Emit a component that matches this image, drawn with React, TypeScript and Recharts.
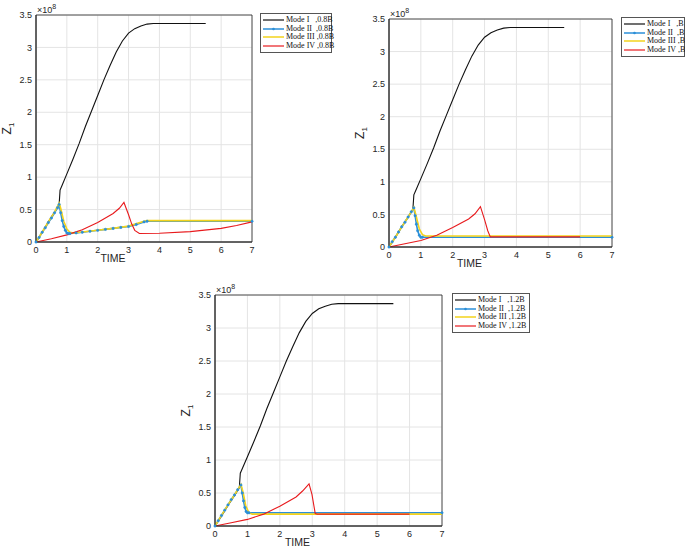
import React from "react";
import { LineChart, Line, XAxis, YAxis, CartesianGrid, ReferenceArea } from "recharts";

const xTicks = [0, 1, 2, 3, 4, 5, 6, 7];
const yTicks = [0, 0.5, 1, 1.5, 2, 2.5, 3, 3.5];
const modeNames = ["Mode I   ", "Mode II  ", "Mode III ", "Mode IV "];
const caseNames = [",0.8B", ",B", ",1.2B"];
const seriesColors = ["#111111", "#2b8fd8", "#f3d31c", "#e81a1d"];

// Mode I is the same in all three cases (values in 1e8)
const modeITime = [0, 0.2, 0.4, 0.6, 0.75, 0.78, 0.85, 1.0, 1.2, 1.4, 1.6, 1.8, 2.0, 2.2, 2.4, 2.6, 2.8, 3.0, 3.2, 3.4, 3.6, 3.8, 4.0, 5.5];
const modeIZ = [0, 0.15, 0.31, 0.46, 0.58, 0.8, 0.88, 1.05, 1.28, 1.52, 1.78, 2.02, 2.26, 2.5, 2.72, 2.93, 3.1, 3.22, 3.29, 3.33, 3.36, 3.37, 3.37, 3.37];

// case 0.8B
const modeIITime08 = [0, 0.1, 0.2, 0.3, 0.4, 0.5, 0.6, 0.7, 0.75, 0.8, 0.85, 0.9, 0.95, 1.0, 1.05, 1.1, 1.3, 1.5, 1.75, 2.0, 2.25, 2.5, 2.75, 3.0, 3.25, 3.5, 3.6, 7];
const modeIIZ08 = [0, 0.07, 0.15, 0.22, 0.3, 0.37, 0.45, 0.53, 0.58, 0.45, 0.33, 0.24, 0.18, 0.14, 0.13, 0.13, 0.14, 0.15, 0.165, 0.18, 0.195, 0.21, 0.225, 0.24, 0.27, 0.31, 0.32, 0.32];
const modeIIITime08 = [0, 0.2, 0.4, 0.6, 0.75, 0.8, 0.9, 1.0, 1.1, 1.2, 1.5, 2, 2.5, 3, 3.5, 3.6, 7];
const modeIIIZ08 = [0, 0.15, 0.31, 0.46, 0.6, 0.52, 0.32, 0.2, 0.15, 0.14, 0.155, 0.18, 0.21, 0.245, 0.32, 0.33, 0.33];
const modeIVTime08 = [0, 0.5, 1, 1.5, 2, 2.5, 2.7, 2.85, 3.0, 3.1, 3.2, 3.35, 4, 5, 6, 6.5, 7];
const modeIVZ08 = [0, 0.05, 0.11, 0.19, 0.3, 0.44, 0.52, 0.61, 0.42, 0.28, 0.18, 0.13, 0.135, 0.16, 0.21, 0.255, 0.31];

// case B
const modeIITimeB = [0, 0.1, 0.2, 0.3, 0.4, 0.5, 0.6, 0.7, 0.78, 0.82, 0.86, 0.9, 0.95, 1.0, 1.05, 7];
const modeIIZB = [0, 0.08, 0.15, 0.23, 0.31, 0.38, 0.46, 0.54, 0.6, 0.48, 0.35, 0.25, 0.18, 0.15, 0.15, 0.15];
const modeIIITimeB = [0, 0.2, 0.4, 0.6, 0.78, 0.85, 0.95, 1.05, 1.15, 7];
const modeIIIZB = [0, 0.15, 0.31, 0.46, 0.61, 0.48, 0.28, 0.19, 0.17, 0.17];
const modeIVTimeB = [0, 0.5, 1, 1.5, 2, 2.5, 2.7, 2.87, 3.0, 3.1, 3.18, 6.0];
const modeIVZB = [0, 0.05, 0.1, 0.18, 0.3, 0.43, 0.51, 0.62, 0.42, 0.25, 0.155, 0.155];

// case 1.2B
const modeIITime12 = [0, 0.1, 0.2, 0.3, 0.4, 0.5, 0.6, 0.7, 0.8, 0.84, 0.88, 0.92, 0.96, 1.0, 1.05, 7];
const modeIIZ12 = [0, 0.08, 0.16, 0.24, 0.32, 0.4, 0.47, 0.55, 0.62, 0.5, 0.38, 0.28, 0.22, 0.2, 0.2, 0.2];
const modeIIITime12 = [0, 0.2, 0.4, 0.6, 0.8, 0.87, 0.95, 1.05, 1.15, 7];
const modeIIIZ12 = [0, 0.16, 0.32, 0.47, 0.63, 0.5, 0.3, 0.2, 0.18, 0.18];
const modeIVTime12 = [0, 0.5, 1, 1.5, 2, 2.5, 2.7, 2.9, 2.99, 3.09, 3.15, 6.0];
const modeIVZ12 = [0, 0.05, 0.1, 0.18, 0.3, 0.44, 0.53, 0.64, 0.48, 0.19, 0.18, 0.18];

const zip = (t: number[], z: number[]) => t.map((x, i) => ({ t: x, z: z[i] }));

const panels = [
  {
    left: 0, top: 0, width: 260, height: 270, yAxisWidth: 36, marginTop: 15,
    legendLeft: 260, legendTop: 13, legendWidth: 72, suffix: caseNames[0],
    series: [zip(modeITime, modeIZ), zip(modeIITime08, modeIIZ08), zip(modeIIITime08, modeIIIZ08), zip(modeIVTime08, modeIVZ08)],
  },
  {
    left: 340, top: 0, width: 280, height: 275, yAxisWidth: 49, marginTop: 19,
    legendLeft: 621, legendTop: 17, legendWidth: 64, suffix: caseNames[1],
    series: [zip(modeITime, modeIZ), zip(modeIITimeB, modeIIZB), zip(modeIIITimeB, modeIIIZB), zip(modeIVTimeB, modeIVZB)],
  },
  {
    left: 180, top: 270, width: 270, height: 284, yAxisWidth: 35, marginTop: 25,
    legendLeft: 452, legendTop: 293, legendWidth: 78, suffix: caseNames[2],
    series: [zip(modeITime, modeIZ), zip(modeIITime12, modeIIZ12), zip(modeIIITime12, modeIIIZ12), zip(modeIVTime12, modeIVZ12)],
  },
];

const axisFont = "'Liberation Sans', Arial, sans-serif";
const axisColor = "#262626";

function YLabel(props: any) {
  const vb = props.viewBox || { x: 0, y: 0, width: 0, height: 0 };
  const plotLeft = vb.x + vb.width;
  const cy = vb.y + vb.height / 2;
  const zx = plotLeft - 25;
  return (
    <g fontFamily={axisFont} fill={axisColor}>
      <text x={zx} y={cy} fontSize={12} textAnchor="middle" transform={`rotate(-90, ${zx}, ${cy})`}>
        Z<tspan fontSize={8} dy={3}>1</tspan>
      </text>
      <text x={plotLeft + 1} y={vb.y - 2} fontSize={9}>
        ×10<tspan fontSize={7} dy={-4}>8</tspan>
      </text>
    </g>
  );
}

function XLabel(props: any) {
  const vb = props.viewBox || { x: 0, y: 0, width: 0, height: 0 };
  return (
    <text x={vb.x + vb.width / 2 - 31} y={vb.y + 20} fontSize={10.5} fontFamily={axisFont} fill={axisColor} textAnchor="middle">
      TIME
    </text>
  );
}

function LegendBox({ left, top, width, suffix }: { left: number; top: number; width: number; suffix: string }) {
  return (
    <div
      style={{
        position: "absolute", left, top, width, boxSizing: "border-box",
        border: "1px solid #555", background: "#fff", padding: "2px 0 2px 2px",
        fontFamily: "'Liberation Serif', serif", fontSize: 8, lineHeight: "8.5px", color: "#111",
      }}
    >
      {modeNames.map((name, i) => (
        <div key={name} style={{ display: "flex", alignItems: "center", whiteSpace: "pre" }}>
          <svg width={21} height={8} style={{ flex: "none", marginRight: 2 }}>
            <line x1={0} x2={21} y1={4} y2={4} stroke={seriesColors[i]} strokeWidth={i === 1 || i === 2 ? 1.5 : 1.2} />
            {i === 1 && <circle cx={10.5} cy={4} r={1.3} fill={seriesColors[i]} />}
          </svg>
          <span>{name + suffix}</span>
        </div>
      ))}
    </div>
  );
}

function Panel(p: (typeof panels)[number]) {
  return (
    <div style={{ position: "absolute", left: p.left, top: p.top }}>
      <LineChart width={p.width} height={p.height} margin={{ top: p.marginTop, right: 8, left: 0, bottom: 0 }}>
        <CartesianGrid stroke="#e4e4e4" />
        <XAxis
          type="number" dataKey="t" domain={[0, 7]} ticks={xTicks} allowDuplicatedCategory={false}
          height={28} tickLine={false} tickSize={3} tickMargin={2}
          axisLine={{ stroke: axisColor }}
          tick={{ fontSize: 9, fill: axisColor, fontFamily: axisFont }}
          label={<XLabel />}
        />
        <YAxis
          type="number" domain={[0, 3.5]} ticks={yTicks} width={p.yAxisWidth}
          tickLine={false} tickSize={2} tickMargin={2}
          axisLine={{ stroke: axisColor }}
          tick={{ fontSize: 9, fill: axisColor, fontFamily: axisFont }}
          label={<YLabel />}
        />
        <ReferenceArea x1={0} x2={7} y1={0} y2={3.5} fill="none" stroke={axisColor} strokeWidth={0.8} />
        {p.series.map((data, i) => (
          <Line
            key={modeNames[i]}
            data={data}
            dataKey="z"
            type="linear"
            stroke={seriesColors[i]}
            strokeWidth={i === 1 || i === 2 ? 1.6 : 1.1}
            dot={i === 1 ? { r: 1.2, fill: seriesColors[i], stroke: seriesColors[i], strokeWidth: 0.5 } : false}
            isAnimationActive={false}
          />
        ))}
      </LineChart>
    </div>
  );
}

export default function App() {
  return (
    <div style={{ position: "absolute", left: 0, top: 0, width: 685, height: 549, background: "#fff", overflow: "hidden" }}>
      {panels.map((p, i) => (
        <Panel key={i} {...p} />
      ))}
      {panels.map((p, i) => (
        <LegendBox key={"l" + i} left={p.legendLeft} top={p.legendTop} width={p.legendWidth} suffix={p.suffix} />
      ))}
    </div>
  );
}
